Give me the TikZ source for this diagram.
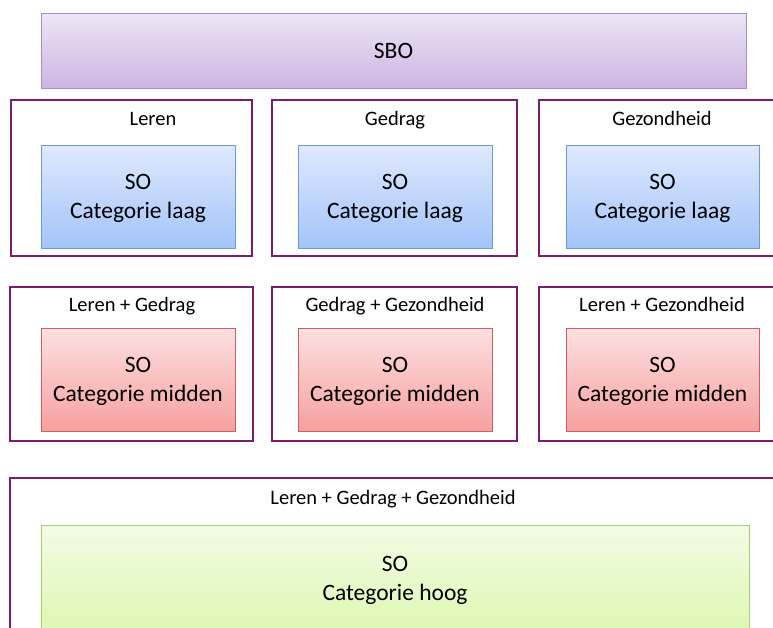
\documentclass[tikz,border=0pt]{standalone}
\usepackage{fontspec}
\setmainfont{Carlito}

\definecolor{kader}{RGB}{122,28,112}
\definecolor{sborand}{RGB}{166,140,203}
\definecolor{laagrand}{RGB}{106,154,216}
\definecolor{middenrand}{RGB}{208,96,96}
\definecolor{hoogrand}{RGB}{168,204,112}

\tikzset{
  groep/.style={draw=kader, line width=2pt, fill=white},
  kop/.style={anchor=base, font=\fontsize{20.5}{24}\selectfont},
  sbo/.style={draw=sborand, line width=1pt, top color={rgb,255:red,238;green,230;blue,246}, bottom color={rgb,255:red,203;green,181;blue,226}, font=\fontsize{23.5}{29}\selectfont},
  laag/.style={draw=laagrand, line width=1pt, top color={rgb,255:red,223;green,233;blue,253}, bottom color={rgb,255:red,163;green,196;blue,249}, align=center, text depth=0pt, font=\fontsize{23.5}{29}\selectfont},
  midden/.style={draw=middenrand, line width=1pt, top color={rgb,255:red,253;green,224;blue,224}, bottom color={rgb,255:red,246;green,160;blue,160}, align=center, text depth=0pt, font=\fontsize{23.5}{29}\selectfont},
  hoog/.style={draw=hoogrand, line width=1pt, top color={rgb,255:red,243;green,251;blue,228}, bottom color={rgb,255:red,216;green,247;blue,168}}
}

\begin{document}
\begin{tikzpicture}[x=1pt, y=-1pt]
    \useasboundingbox (0, 0) rectangle (773, 627);
    \clip (0, 0) rectangle (773, 627);

    % Top
    \node[sbo, minimum width=705, minimum height=75] (sbo) at (393.5, 50.5) {SBO};

    % Row 1: laag
    \node[groep, minimum width=241, minimum height=156] (leren) at (131.5, 178) {};
    \node[groep, minimum width=245, minimum height=156] (gedrag) at (394.5, 178) {};
    \node[groep, minimum width=250, minimum height=156] (gezond) at (664, 178) {};
    \node[kop] (lerenkop) at (153, 125) {Leren};
    \node[kop] (gedragkop) at (395, 125) {Gedrag};
    \node[kop] (gezondkop) at (662, 125) {Gezondheid};
    \node[laag, minimum width=194, minimum height=103] (lerenso) at (138, 196.5) {SO\\Categorie laag};
    \node[laag, minimum width=194, minimum height=103] (gedragso) at (395, 196.5) {SO\\Categorie laag};
    \node[laag, minimum width=193, minimum height=103] (gezondso) at (662.5, 196.5) {SO\\Categorie laag};

    % Row 2: midden
    \node[groep, minimum width=243, minimum height=154] (lerengedrag) at (131.5, 364) {};
    \node[groep, minimum width=245, minimum height=154] (gedraggezond) at (394.5, 364) {};
    \node[groep, minimum width=250, minimum height=154] (lerengezond) at (664, 364) {};
    \node[kop] (lerengedragkop) at (132, 311) {Leren + Gedrag};
    \node[kop] (gedraggezondkop) at (395, 311) {Gedrag + Gezondheid};
    \node[kop] (lerengezondkop) at (662, 311) {Leren + Gezondheid};
    \node[midden, minimum width=194, minimum height=103] (lerengedragso) at (138, 379.5) {SO\\Categorie midden};
    \node[midden, minimum width=194, minimum height=103] (gedraggezondso) at (395, 379.5) {SO\\Categorie midden};
    \node[midden, minimum width=193, minimum height=103] (lerengezondso) at (662.5, 379.5) {SO\\Categorie midden};

    % Row 3: hoog
    \node[groep, minimum width=780, minimum height=180] (alles) at (400, 568) {};
    \node[kop] (alleskop) at (393, 504) {Leren + Gedrag + Gezondheid};
    \node[hoog, minimum width=708, minimum height=130] (allesso) at (395, 590) {};
    \node[align=center, text depth=0pt, font=\fontsize{23.5}{29}\selectfont] (allestekst) at (395, 578) {SO\\Categorie hoog};
  \end{tikzpicture}
\end{document}
